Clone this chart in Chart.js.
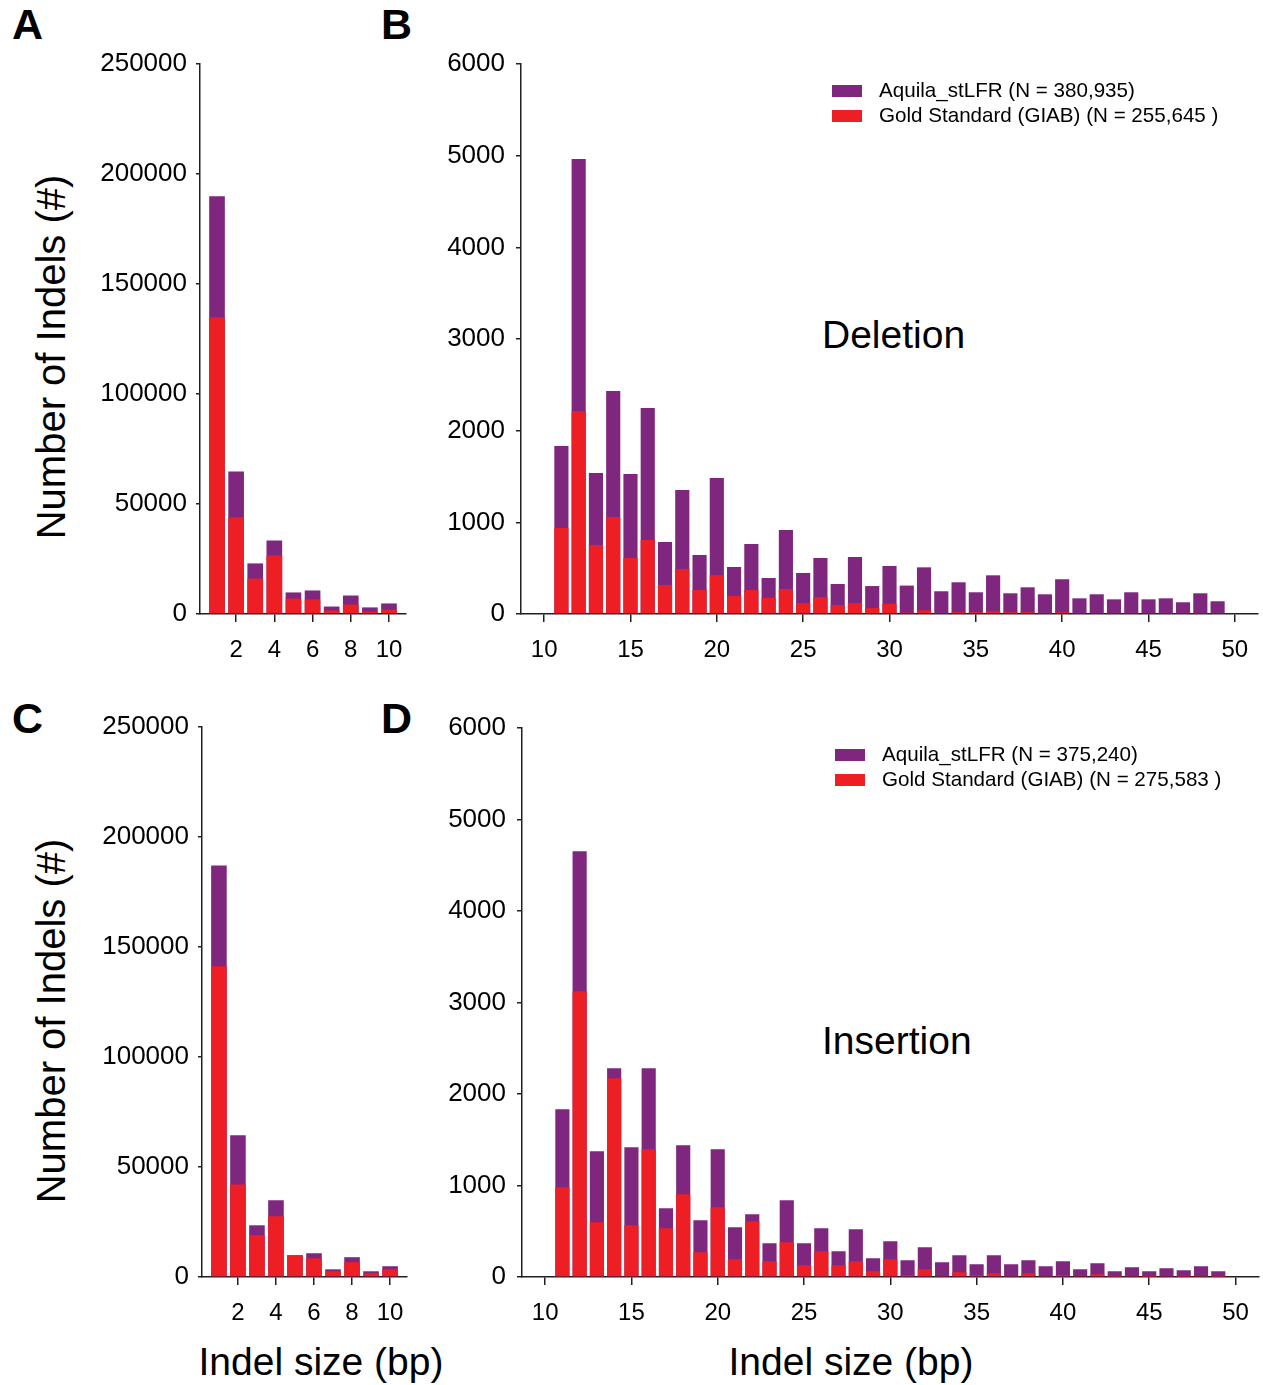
<!DOCTYPE html>
<html>
<head>
<meta charset="utf-8">
<script src="https://cdn.jsdelivr.net/npm/chart.js@4.4.1/dist/chart.umd.min.js"></script>
<style>
html,body{margin:0;padding:0;background:#fff;}
#wrap{position:relative;width:1263px;height:1385px;overflow:hidden;font-family:'Liberation Sans',Arial,Helvetica,sans-serif;color:#000;}
#wrap canvas{position:absolute;}
.t{position:absolute;white-space:nowrap;line-height:1;}
.letter{font-weight:bold;font-size:43px;}
.ann{font-size:39px;}
.xt{font-size:39px;width:400px;text-align:center;}
.yt{font-size:40px;width:500px;height:40px;text-align:center;transform:rotate(-90deg);transform-origin:50% 50%;}
</style>
</head>
<body>
<div id="wrap">
  <div class="t letter" style="left:12px;top:3px;">A</div>
  <div class="t letter" style="left:381px;top:3px;">B</div>
  <div class="t letter" style="left:12px;top:697px;">C</div>
  <div class="t letter" style="left:381px;top:697px;">D</div>
  <div class="t yt" style="left:-199px;top:337px;">Number of Indels (#)</div>
  <div class="t yt" style="left:-199px;top:1001px;">Number of Indels (#)</div>
  <div class="t xt" style="left:121px;top:1342px;">Indel size (bp)</div>
  <div class="t xt" style="left:651px;top:1342px;">Indel size (bp)</div>
  <div class="t ann" style="left:822px;top:315px;">Deletion</div>
  <div class="t ann" style="left:822px;top:1021px;">Insertion</div>
</div>
<script>
// ---------- data ----------
const sizesSmall = [1, 2, 3, 4, 5, 6, 7, 8, 9, 10];
const sizesLarge = [11, 12, 13, 14, 15, 16, 17, 18, 19, 20, 21, 22, 23, 24, 25, 26, 27, 28, 29, 30,
                    31, 32, 33, 34, 35, 36, 37, 38, 39, 40, 41, 42, 43, 44, 45, 46, 47, 48, 49];

// Deletions 1-10 bp
const delSmallAquila = [189900, 64800, 23000, 33400, 9800, 10700, 3400, 8400, 3000, 4800];
const delSmallGold   = [134900, 44000, 16100, 26600, 7000, 6600, 1600, 4300, 1100, 2000];
// Deletions 11-49 bp
const delLargeAquila = [1833, 4964, 1538, 2433, 1527, 2247, 785, 1353, 644, 1484,
                        513, 764, 393, 916, 447, 611, 327, 622, 305, 524,
                        310, 509, 248, 346, 237, 422, 226, 291, 215, 379,
                        171, 215, 160, 237, 160, 171, 128, 226, 139];
const delLargeGold   = [938, 2215, 753, 1058, 611, 807, 316, 491, 262, 425,
                        196, 262, 175, 273, 120, 185, 98, 120, 65, 112,
                        15, 40, 5, 20, 20, 30, 20, 20, 5, 20,
                        5, 5, 5, 5, 5, 5, 5, 5, 5];
// Insertions 1-10 bp
const insSmallAquila = [187100, 64400, 23500, 34900, 9900, 10800, 3500, 9000, 2600, 4900];
const insSmallGold   = [141200, 42100, 19000, 27600, 9900, 8500, 2600, 6700, 1700, 3500];
// Insertions 11-49 bp
const insLargeAquila = [1833, 4653, 1374, 2281, 1418, 2281, 751, 1439, 620, 1396,
                        543, 685, 368, 838, 368, 532, 281, 521, 204, 390,
                        183, 325, 161, 237, 139, 237, 139, 183, 117, 172,
                        84, 150, 62, 106, 62, 95, 73, 117, 62];
const insLargeGold   = [980, 3123, 598, 2172, 565, 1396, 532, 904, 270, 762,
                        193, 609, 172, 379, 128, 281, 128, 172, 62, 193,
                        18, 84, 5, 51, 18, 40, 5, 40, 5, 18,
                        5, 29, 2, 5, 2, 5, 2, 5, 2];

const xTicksSmall = [2, 4, 6, 8, 10];
const xTicksLarge = [10, 15, 20, 25, 30, 35, 40, 45, 50];
const yTicksSmall = [0, 50000, 100000, 150000, 200000, 250000];
const yTicksLarge = [0, 1000, 2000, 3000, 4000, 5000, 6000];

const seriesNames = ['Aquila_stLFR', 'Gold Standard (GIAB)'];
const delLegend = ['Aquila_stLFR (N = 380,935)', 'Gold Standard (GIAB) (N = 255,645 )'];
const insLegend = ['Aquila_stLFR (N = 375,240)', 'Gold Standard (GIAB) (N = 275,583 )'];

const PURPLE = '#7F277F';
const RED = '#EE1F24';
const AXIS = '#231F20';
const FONT = "'Liberation Sans', Arial, Helvetica, sans-serif";

// ---------- custom legend drawn inside the chart area ----------
const panelLegend = {
  id: 'panelLegend',
  afterDraw(chart, args, opts) {
    if (!opts || !opts.texts) return;
    const ctx = chart.ctx;
    ctx.save();
    ctx.font = '20.6px ' + FONT;
    ctx.textBaseline = 'middle';
    ctx.textAlign = 'left';
    opts.texts.forEach((txt, i) => {
      const y = opts.y + i * opts.dy;
      ctx.fillStyle = opts.colors[i];
      ctx.fillRect(opts.x, y - 6, 30, 12);
      ctx.fillStyle = '#000';
      ctx.fillText(txt, opts.x + 47, y);
    });
    ctx.restore();
  }
};

function makePanel(cfg) {
  const wrap = document.getElementById('wrap');
  const cv = document.createElement('canvas');
  cv.width = cfg.box.w; cv.height = cfg.box.h;
  cv.style.left = cfg.box.left + 'px'; cv.style.top = cfg.box.top + 'px';
  cv.style.width = cfg.box.w + 'px'; cv.style.height = cfg.box.h + 'px';
  wrap.appendChild(cv);

  const a = cfg.area;
  const padTop = a.t - cfg.box.top;
  const padRight = cfg.box.left + cfg.box.w - a.r;
  const yWidth = a.l - cfg.box.left;
  const xHeight = cfg.box.top + cfg.box.h - a.b;

  const toPts = (xs, ys) => xs.map((x, i) => ({ x: x, y: ys[i] }));

  new Chart(cv, {
    type: 'bar',
    data: {
      datasets: [
        { label: seriesNames[0], data: toPts(cfg.sizes, cfg.aquila), backgroundColor: PURPLE,
          order: 1, grouped: false, barPercentage: 0.82, categoryPercentage: 1.0, borderWidth: 0 },
        { label: seriesNames[1], data: toPts(cfg.sizes, cfg.gold), backgroundColor: RED,
          order: 0, grouped: false, barPercentage: 0.82, categoryPercentage: 1.0, borderWidth: 0 }
      ]
    },
    options: {
      responsive: false,
      animation: false,
      devicePixelRatio: 1,
      layout: { padding: { left: 0, top: padTop, right: padRight, bottom: 0 } },
      plugins: {
        legend: { display: false },
        tooltip: { enabled: false },
        panelLegend: cfg.legend ? { texts: cfg.legend, colors: [PURPLE, RED], x: cfg.legendX, y: cfg.legendY, dy: 25 } : {}
      },
      scales: {
        x: {
          type: 'linear',
          min: cfg.xMin, max: cfg.xMax,
          offset: false,
          afterBuildTicks: (s) => { s.ticks = cfg.xTicks.map(v => ({ value: v })); },
          afterFit: (s) => { s.height = xHeight; },
          ticks: { autoSkip: false, maxRotation: 0, minRotation: 0, color: '#000',
                   font: { family: FONT, size: 24 }, padding: 14,
                   callback: (v) => String(v) },
          grid: { display: true, drawOnChartArea: false, drawTicks: true, tickLength: 8,
                  color: AXIS, lineWidth: 1.5, offset: false },
          border: { display: true, color: AXIS, width: 1.5 }
        },
        y: {
          type: 'linear',
          min: 0, max: cfg.yMax,
          afterBuildTicks: (s) => { s.ticks = cfg.yTicks.map(v => ({ value: v })); },
          afterFit: (s) => { s.width = yWidth; },
          ticks: { color: '#000', font: { family: FONT, size: 26 }, padding: cfg.yPad,
                   callback: (v) => String(v) },
          grid: { display: true, drawOnChartArea: false, drawTicks: true, tickLength: cfg.yTick,
                  color: AXIS, lineWidth: 1.5 },
          border: { display: true, color: AXIS, width: 1.5 }
        }
      }
    },
    plugins: [panelLegend]
  });
}

makePanel({
  box: { left: 0, top: 0, w: 420, h: 690 }, area: { l: 200, t: 64, r: 406, b: 614 },
  sizes: sizesSmall, aquila: delSmallAquila, gold: delSmallGold,
  xTicks: xTicksSmall, yTicks: yTicksSmall, xMin: 0.11, xMax: 10.89, yMax: 250000,
  yPad: 9, yTick: 4
});
makePanel({
  box: { left: 420, top: 0, w: 843, h: 690 }, area: { l: 521, t: 64, r: 1258, b: 614 },
  sizes: sizesLarge, aquila: delLargeAquila, gold: delLargeGold,
  xTicks: xTicksLarge, yTicks: yTicksLarge, xMin: 8.66, xMax: 51.34, yMax: 6000,
  yPad: 11, yTick: 5,
  legend: delLegend, legendX: 832 - 420, legendY: 91
});
makePanel({
  box: { left: 0, top: 690, w: 420, h: 695 }, area: { l: 202, t: 727, r: 407, b: 1277 },
  sizes: sizesSmall, aquila: insSmallAquila, gold: insSmallGold,
  xTicks: xTicksSmall, yTicks: yTicksSmall, xMin: 0.11, xMax: 10.89, yMax: 250000,
  yPad: 9, yTick: 4
});
makePanel({
  box: { left: 420, top: 690, w: 843, h: 695 }, area: { l: 522, t: 728, r: 1259, b: 1277 },
  sizes: sizesLarge, aquila: insLargeAquila, gold: insLargeGold,
  xTicks: xTicksLarge, yTicks: yTicksLarge, xMin: 8.66, xMax: 51.34, yMax: 6000,
  yPad: 11, yTick: 5,
  legend: insLegend, legendX: 835 - 420, legendY: 755 - 690
});
</script>
</body>
</html>
